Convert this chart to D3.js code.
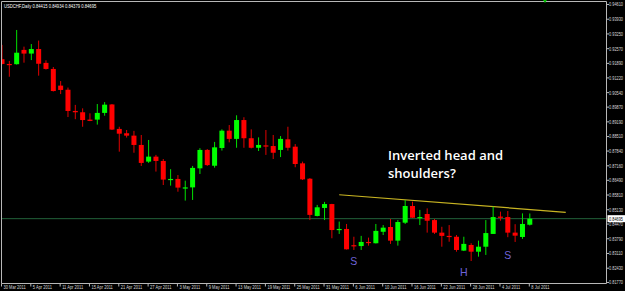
<!DOCTYPE html>
<html><head><meta charset="utf-8">
<script src="https://cdn.jsdelivr.net/npm/d3@7/dist/d3.min.js"></script>
<style>html,body{margin:0;padding:0;background:#000;overflow:hidden}</style>
</head><body>
<svg id="c" width="625" height="291"></svg>
<script>
// ---------- DATA ----------
const symbolTitle = "USDCHF,Daily 0.84415 0.84934 0.84379 0.84695";
const opens = [.9206,.9184,.9183,.9249,.9232,.9253,.9189,.9161,.9084,.9065,.8967,.8961,.8927,.8927,.8958,.8997,.8884,.8864,.8853,.8810,.8733,.8756,.8736,.8650,.8653,.8613,.8614,.8702,.8787,.8714,.8796,.8876,.8838,.8925,.8841,.8797,.8808,.8805,.8787,.8836,.8802,.8725,.8654,.8482,.8519,.8537,.8420,.8422,.8347,.8343,.8362,.8356,.8409,.8431,.8368,.8451,.8528,.8476,.8491,.8463,.8405,.8390,.8386,.8322,.8348,.8317,.8340,.8399,.8479,.8477,.8405,.8385,.84415];
const highs = [.9272,.9198,.9341,.9264,.9276,.9292,.9201,.9170,.9105,.9075,.8995,.8979,.8956,.8999,.9008,.8999,.8894,.8879,.8875,.8856,.8833,.8764,.8745,.8698,.8671,.8645,.8713,.8795,.8791,.8824,.8882,.8902,.8947,.8938,.8882,.8845,.8879,.8856,.8851,.8894,.8814,.8733,.8657,.8533,.8547,.8538,.8456,.8445,.8386,.8390,.8382,.8445,.8440,.8468,.8463,.8556,.8548,.8510,.8517,.8468,.8432,.8440,.8394,.8386,.8356,.8368,.8463,.8525,.8502,.8505,.8444,.8494,.84934];
const lows = [.9182,.9125,.9181,.9190,.9202,.9130,.9158,.9057,.9045,.8939,.8929,.8894,.8920,.8904,.8945,.8879,.8779,.8844,.8774,.8713,.8727,.8687,.8625,.8622,.8594,.8553,.8556,.8676,.8713,.8705,.8784,.8822,.8797,.8797,.8794,.8782,.8764,.8745,.8754,.8784,.8707,.8648,.8463,.8480,.8463,.8379,.8399,.8327,.8325,.8325,.8345,.8355,.8394,.8353,.8345,.8445,.8473,.8440,.8405,.8399,.8340,.8363,.8317,.8320,.8274,.8294,.8302,.8399,.8460,.8384,.8362,.8376,.84379];
const closes = [.9184,.9182,.9236,.9232,.9253,.9185,.9161,.9059,.9064,.8967,.8961,.8925,.8921,.8958,.8996,.8881,.8862,.8853,.8810,.8727,.8756,.8736,.8650,.8653,.8613,.8614,.8704,.8787,.8717,.8799,.8876,.8838,.8925,.8841,.8797,.8810,.8807,.8774,.8838,.8797,.8722,.8651,.8487,.8522,.8537,.8417,.8422,.8328,.8345,.8362,.8360,.8413,.8428,.8368,.8454,.8528,.8474,.8477,.8460,.8405,.8390,.8388,.8325,.8353,.8317,.8340,.8403,.8477,.8477,.8405,.8391,.8445,.84695];
const dateLabels = ["30 Mar 2011","5 Apr 2011","11 Apr 2011","15 Apr 2011","21 Apr 2011","27 Apr 2011","3 May 2011","9 May 2011","13 May 2011","19 May 2011","25 May 2011","31 May 2011","6 Jun 2011","10 Jun 2011","16 Jun 2011","22 Jun 2011","28 Jun 2011","4 Jul 2011","8 Jul 2011"];
const dateIndex = [0,4,8,12,16,20,24,28,32,36,40,44,48,52,56,60,64,68,72];
const priceLabels = ["0.94610","0.93930","0.93250","0.92570","0.91890","0.91220","0.90540","0.89870","0.89190","0.88510","0.87840","0.87160","0.86490","0.85810","0.85130","0.84470","0.83790","0.83110","0.82430","0.81770"];
const bidPrice = 0.84695;
const trendIdx = [46, 76.9];
const trendPrice = [0.8580, 0.8499];
const noteText = ["Inverted head and", "shoulders?"];
const markText = ["S", "H", "S"];
const markIdx = [48, 63, 69];
const markPrice = [0.8254, 0.8206, 0.8282];

// ---------- LAYOUT ----------
const W = 625, H = 291;
const pL = 1.5, pR = 606.5, pT = 1.5, pB = 283.5;
const svg = d3.select("#c");
svg.append("rect").attr("width", W).attr("height", H).attr("fill", "#000");

const x = d3.scaleLinear().domain([0, 72]).range([2, 529.8]);
const pv = priceLabels.map(Number);
const y = d3.scaleLinear().domain([pv[pv.length-1], pv[0]]).range([282, 4]);

svg.append("clipPath").attr("id", "clip").append("rect")
  .attr("x", pL + 0.5).attr("y", pT + 0.5).attr("width", pR - pL - 1).attr("height", pB - pT - 1);

const plot = svg.append("g").attr("clip-path", "url(#clip)");

// bid line
plot.append("line").attr("x1", pL).attr("x2", pR)
  .attr("y1", y(bidPrice)).attr("y2", y(bidPrice))
  .attr("stroke", "#22623a").attr("stroke-width", 1);

// trend line
plot.append("line")
  .attr("x1", x(trendIdx[0])).attr("y1", y(trendPrice[0]))
  .attr("x2", x(trendIdx[1])).attr("y2", y(trendPrice[1]))
  .attr("stroke", "#c8b422").attr("stroke-width", 1.2);

// candles
const bars = d3.range(opens.length).map(i => ({i, o: opens[i], h: highs[i], l: lows[i], c: closes[i]}));
const bw = 5;
const g = plot.selectAll("g.c").data(bars).join("g").attr("class", "c");
g.append("line")
  .attr("x1", d => x(d.i)).attr("x2", d => x(d.i))
  .attr("y1", d => y(d.h)).attr("y2", d => y(d.l))
  .attr("stroke", d => d.c >= d.o ? "#00e000" : "#e00000").attr("stroke-width", 1);
g.append("rect")
  .attr("x", d => x(d.i) - bw / 2)
  .attr("y", d => y(Math.max(d.o, d.c)))
  .attr("width", bw)
  .attr("height", d => Math.max(1.2, Math.abs(y(d.o) - y(d.c))))
  .attr("fill", d => d.c >= d.o ? "#00ff00" : "#ff0000");

// annotations
plot.selectAll("text.m").data(markText).join("text").attr("class", "m")
  .attr("x", (d, k) => x(markIdx[k])).attr("y", (d, k) => y(markPrice[k]))
  .attr("text-anchor", "middle").attr("font-family", "Liberation Sans, Arial, sans-serif")
  .attr("font-size", 10.5).attr("fill", "#6f63d8").text(d => d);

const note = plot.append("text").attr("x", 388).attr("y", 160)
  .attr("font-family", "Open Sans, sans-serif").attr("font-size", 13).attr("font-weight", 600).attr("fill", "#fff");
noteText.forEach((t, k) => note.append("tspan").attr("x", 388).attr("y", 160 + k * 18).text(t));

// frame
svg.append("path").attr("d", `M${pL},${pB}V${pT}H${pR}V${pB}H${pL}`)
  .attr("fill", "none").attr("stroke", "#b8b8b8").attr("stroke-width", 1);

// horizontally condensed small text (scaled, so its box stays inside the page)
const SX = 0.72;
const squeeze = (sel, dx, dy) => sel.attr("x", 0).attr("y", 0)
  .attr("transform", `translate(${dx},${dy}) scale(${SX},1)`);

const yAxis = d3.axisRight(y).tickValues(pv).tickSize(2.5).tickFormat((d, k) => priceLabels[k]);
const ya = svg.append("g").attr("transform", `translate(${pR},0)`).call(yAxis);
ya.select(".domain").remove();
ya.selectAll("line").attr("stroke", "#b8b8b8");
ya.selectAll("text").attr("fill", "#d8d8d8").attr("font-family", "Liberation Sans, Arial, sans-serif")
  .attr("font-size", 5.4).attr("dy", "0.35em").call(squeeze, 2.5, 0);

const xAxis = d3.axisBottom(x).tickValues(dateIndex).tickSize(3).tickFormat((d, k) => dateLabels[k]);
const xa = svg.append("g").attr("transform", `translate(-1,${pB})`).call(xAxis);
xa.select(".domain").remove();
xa.selectAll("line").attr("stroke", "#b8b8b8");
xa.selectAll("text").attr("fill", "#d8d8d8").attr("font-family", "Liberation Sans, Arial, sans-serif")
  .attr("font-size", 5.6).attr("text-anchor", "start").attr("dy", "0.71em").call(squeeze, 2, 1.5);

// bid price label
const by = y(bidPrice);
svg.append("rect").attr("x", pR + 1).attr("y", by - 3.5).attr("width", W - pR).attr("height", 7).attr("fill", "#fff");
svg.append("text").attr("dy", "0.35em")
  .attr("font-family", "Liberation Sans, Arial, sans-serif").attr("font-size", 5.4).attr("fill", "#000")
  .text(bidPrice.toFixed(5)).call(squeeze, pR + 2.5, by);

// title
svg.append("text").attr("font-family", "Liberation Sans, Arial, sans-serif")
  .attr("font-size", 5.8).attr("fill", "#fff").text(symbolTitle).call(squeeze, 4, 7.5);

// chart shift marker
svg.append("path").attr("d", "M543,0L547,0L545,3Z").attr("fill", "#00c000");
</script>
</body></html>
